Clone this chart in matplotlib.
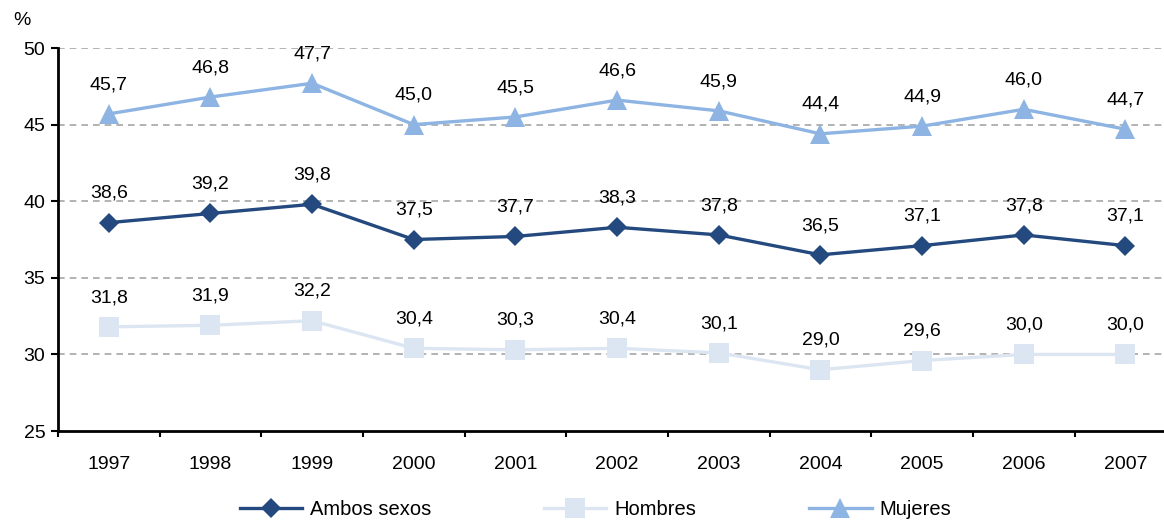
import numpy as np
import matplotlib.pyplot as plt
import matplotlib
matplotlib.rcParams.update({"font.family": ["Liberation Sans", "DejaVu Sans"], "font.size": 14})

years = ["1997", "1998", "1999", "2000", "2001", "2002", "2003", "2004", "2005", "2006", "2007"]
ambos = [38.6, 39.2, 39.8, 37.5, 37.7, 38.3, 37.8, 36.5, 37.1, 37.8, 37.1]
hombres = [31.8, 31.9, 32.2, 30.4, 30.3, 30.4, 30.1, 29.0, 29.6, 30.0, 30.0]
mujeres = [45.7, 46.8, 47.7, 45.0, 45.5, 46.6, 45.9, 44.4, 44.9, 46.0, 44.7]

x = np.arange(len(years))

fig = plt.figure(figsize=(11.64, 5.22), dpi=100)
ax = fig.add_axes([0.0498, 0.1743, 0.9502, 0.7337])

series = [
    ("Ambos sexos", ambos, "#24497F", "D", 10.5),
    ("Hombres", hombres, "#DCE6F2", "s", 15),
    ("Mujeres", mujeres, "#8DB4E2", "^", 14),
]
for name, vals, col, mk, ms in series:
    ax.plot(x, vals, color=col, lw=2.4, marker=mk, markersize=ms,
            markeredgewidth=0, label=name, zorder=3)
    for xi, v in zip(x, vals):
        ax.annotate(("%.1f" % v).replace(".", ","), (xi, v), xytext=(0, 15),
                    textcoords="offset points", ha="center", va="bottom",
                    fontsize=14, zorder=4)

ax.set_ylim(25, 50)
ax.set_xlim(-0.5, 10.38)
ax.set_yticks([25, 30, 35, 40, 45, 50])
for y in [30, 35, 40, 45, 50]:
    ax.axhline(y, color="#A6A6A6", lw=1.2, ls=(0, (4, 3)), zorder=1)

ax.set_xticks(x)
ax.set_xticklabels(years)
ax.set_xticks(np.arange(-0.5, 10.5, 1), minor=True)
ax.tick_params(axis="x", which="major", length=0, pad=18)
ax.tick_params(axis="x", which="minor", length=4, width=1.5, direction="out")
ax.tick_params(axis="y", length=5, width=1.5, direction="out", pad=4)

for s in ["top", "right"]:
    ax.spines[s].set_visible(False)
for s in ["left", "bottom"]:
    ax.spines[s].set_linewidth(2)

fig.text(0.011, 0.952, "%", fontsize=14)

ax.legend(loc="center", bbox_to_anchor=(0.486, -0.205), ncol=3, frameon=False,
          handlelength=3.1, handletextpad=0.4, columnspacing=5.6, fontsize=14.5,
          borderpad=0.2)

fig.savefig("out.png", dpi=100)
